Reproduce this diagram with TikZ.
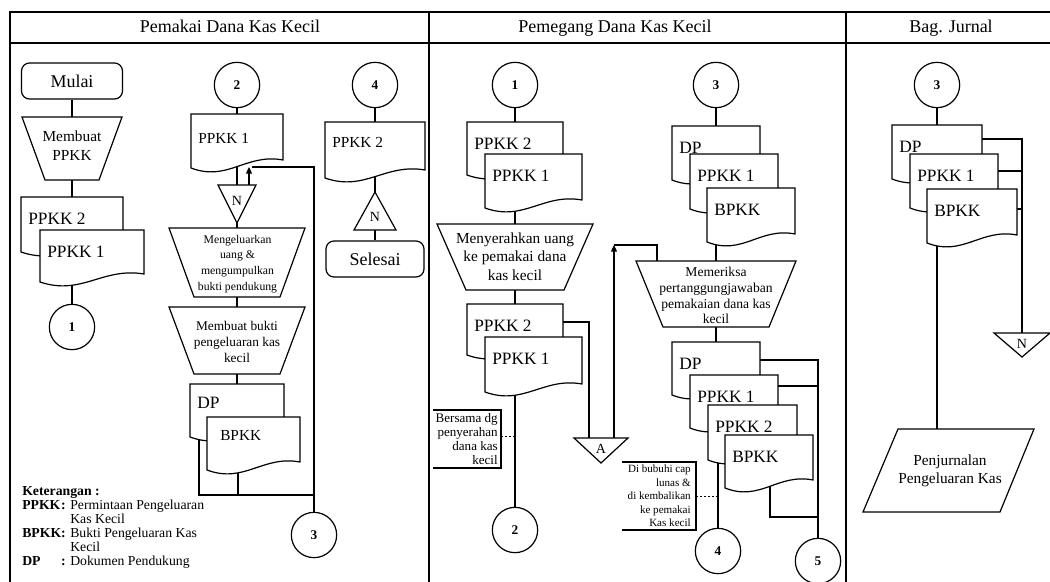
\documentclass[tikz,border=0pt]{standalone}
\usepackage{fontspec}
\setmainfont{Liberation Serif}
\usetikzlibrary{arrows.meta}
\pgfdeclarelayer{background}
\pgfsetlayers{background,main}

\tikzset{
  ln/.style={line width=0.9pt, line join=miter},
  shp/.style={ln, draw=black, fill=white},
  frame/.style={line width=1.1pt},
  conn/.style={shp, circle, minimum size=34pt, inner sep=0pt, font=\bfseries\fontsize{10}{11}\selectfont},
  term/.style={shp, rounded corners=6pt, inner sep=0pt, font=\fontsize{13.5}{16}\selectfont},
  doclab/.style={inner sep=0pt, anchor=base west, font=\fontsize{13}{15}\selectfont},
  doclabs/.style={inner sep=0pt, anchor=base west, font=\fontsize{11.5}{14}\selectfont},
  optext/.style={inner sep=0pt, align=center},
  tritext/.style={inner sep=0pt, font=\fontsize{10.5}{12}\selectfont},
  lanetitle/.style={inner sep=0pt, anchor=base, font=\fontsize{13.5}{16}\selectfont},
  note/.style={inner sep=0pt, align=right, anchor=east},
  flow/.style={ln},
  flowarr/.style={ln, -{Triangle[length=5pt,width=4.5pt]}},
  notedash/.style={line width=0.6pt, dash pattern=on 1.5pt off 1.5pt},
  bracket/.style={line width=0.8pt}
}

% document symbol: name, x1, ytop, x2, ybottom-left, label, label style
\newcommand{\docshape}[7]{%
  \pgfmathsetmacro{\dsw}{#4-#2}%
  \pgfmathsetmacro{\dsa}{#2+0.6*\dsw}%
  \pgfmathsetmacro{\dsb}{#2+0.4*\dsw}%
  \filldraw[shp] (#2,#3) -- (#4,#3) -- (#4,#5-8) .. controls (\dsa,#5-15) and (\dsb,#5+14) .. (#2,#5) -- cycle;
  \coordinate (#1) at ({(#2+#4)/2},{(#3+#5)/2});
  \coordinate (#1-t) at ({(#2+#4)/2},#3);
  \node[#7] (#1-lab) at (#2+7,#3+27) {#6};
}
% manual operation: name, top x1, top x2, top y, bottom x1, bottom x2, bottom y
\newcommand{\manop}[7]{%
  \filldraw[shp] (#2,#4) -- (#3,#4) -- (#6,#7) -- (#5,#7) -- cycle;
  \coordinate (#1-n) at ({(#2+#3)/2},#4);
  \coordinate (#1-s) at ({(#5+#6)/2},#7);
}
% offline storage (point down): name, x1, x2, top y, apex y
\newcommand{\tridown}[5]{%
  \filldraw[shp] (#2,#4) -- (#3,#4) -- ({(#2+#3)/2},#5) -- cycle;
  \coordinate (#1-n) at ({(#2+#3)/2},#4);
  \coordinate (#1-s) at ({(#2+#3)/2},#5);
}
% triangle point up: name, x1, x2, apex y, base y
\newcommand{\triup}[5]{%
  \filldraw[shp] ({(#2+#3)/2},#4) -- (#3,#5) -- (#2,#5) -- cycle;
  \coordinate (#1-n) at ({(#2+#3)/2},#4);
  \coordinate (#1-s) at ({(#2+#3)/2},#5);
}

\begin{document}
\begin{tikzpicture}[x=0.75pt,y=-0.75pt]
\useasboundingbox (0,0) rectangle (1050,582);

% ---------- frame ----------
\draw[frame] (10,582) -- (10,12) -- (1050,12);
\draw[frame] (10,43) -- (1050,43);
\draw[frame] (429,12) -- (429,582);
\draw[frame] (846,12) -- (846,582);
\node[lanetitle] (t1) at (230,32) {Pemakai Dana Kas Kecil};
\node[lanetitle] (t2) at (615,32) {Pemegang Dana Kas Kecil};
\node[lanetitle] (t3) at (951,32) {Bag. Jurnal};

% ---------- lane 1, left column ----------
\node[term, minimum width=75.75pt, minimum height=27pt] (mulai) at (72,81) {Mulai};
\manop{opA}{22}{122}{117}{45}{99}{180}
\node[optext, font=\fontsize{11.5}{14.25}\selectfont] (opA-txt) at (72,146) {Membuat\\PPKK};
\docshape{dA1}{21}{197}{123}{252}{PPKK 2}{doclab}
\docshape{dA2}{40}{230}{144}{282}{PPKK 1}{doclab}
\node[conn] (cA1) at (72,327) {1};

% ---------- lane 1, middle column ----------
\node[conn] (cA2) at (237,85) {2};
\docshape{dB1}{191}{114}{283}{168}{PPKK 1}{doclabs, yshift=-1.5pt}
\tridown{tB}{218}{256}{185}{223}
\node[tritext] (tB-txt) at (237,201) {N};
\manop{opB}{169}{305}{228}{194}{280}{297}
\node[optext, font=\fontsize{8.8}{11.8}\selectfont] (opB-txt) at (237.5,264) {Mengeluarkan\\uang \&\\mengumpulkan\\bukti pendukung};
\manop{opC}{169}{305}{307}{194}{280}{374}
\node[optext, font=\fontsize{10}{12}\selectfont] (opC-txt) at (237,342) {Membuat bukti\\pengeluaran kas\\kecil};
\docshape{dB2}{190}{384}{284}{437}{DP}{doclab, yshift=2.25pt}
\docshape{dB3}{207}{417}{300}{470}{BPKK}{doclabs, xshift=4.5pt, yshift=3pt}
\node[conn] (cA3) at (314,535) {3};

% ---------- lane 1, right column ----------
\node[conn] (cA4) at (375,85) {4};
\docshape{dC1}{325}{122}{425}{178}{PPKK 2}{doclabs, yshift=1.5pt}
\triup{tC}{354}{396}{192}{230}
\node[tritext] (tC-txt) at (375,217) {N};
\node[term, minimum width=73.5pt, minimum height=27pt] (selesai) at (375,259) {Selesai};

% ---------- legend ----------
\node[inner sep=0pt, anchor=north west, font=\fontsize{10.3}{10.5}\selectfont] (legend) at (22,485) {%
\begin{tabular}{@{}l@{}l@{}}
\multicolumn{2}{@{}l}{\textbf{Keterangan :}}\\
\textbf{PPKK}\ & \textbf{:} Permintaan Pengeluaran\\
 & \hphantom{\textbf{:} }Kas Kecil\\
\textbf{BPKK}\ & \textbf{:} Bukti Pengeluaran Kas\\
 & \hphantom{\textbf{:} }Kecil\\
\textbf{DP} & \textbf{:} Dokumen Pendukung
\end{tabular}};

% ---------- lane 2, left column ----------
\node[conn] (cB1) at (515,85) {1};
\docshape{dD1}{467}{122}{563}{175}{PPKK 2}{doclab}
\docshape{dD2}{485}{154}{582}{208}{PPKK 1}{doclab}
\manop{opD}{437}{593}{224}{466}{564}{290}
\node[optext, font=\fontsize{11.5}{13.9}\selectfont] (opD-txt) at (515,256.5) {Menyerahkan uang\\ke pemakai dana\\kas kecil};
\docshape{dD3}{467}{304}{563}{355}{PPKK 2}{doclab}
\docshape{dD4}{485}{337}{582}{392}{PPKK 1}{doclab}
\node[conn] (cB2) at (515,530) {2};
\tridown{tA}{574}{628}{438}{463}
\node[tritext] (tA-txt) at (601,449) {A};
\node[note, font=\fontsize{9.8}{10.7}\selectfont] (noteA) at (498,439) {Bersama dg\\penyerahan\\dana kas\\kecil};

% ---------- lane 2, right column ----------
\node[conn] (cB3) at (716,85) {3};
\docshape{dE1}{672}{126}{760}{180}{DP}{doclab}
\docshape{dE2}{690}{154}{778}{209}{PPKK 1}{doclab}
\docshape{dE3}{707}{188}{795}{242}{BPKK}{doclab}
\manop{opE}{636}{796}{261}{663}{769}{327}
\node[optext, font=\fontsize{10.2}{11.8}\selectfont] (opE-txt) at (716,295.5) {Memeriksa\\pertanggungjawaban\\pemakaian dana kas\\kecil};
\docshape{dF1}{672}{342}{760}{395}{DP}{doclab}
\docshape{dF2}{690}{375}{778}{428}{PPKK 1}{doclab}
\docshape{dF3}{708}{405}{797}{460}{PPKK 2}{doclab}
\docshape{dF4}{725}{435}{813}{488}{BPKK}{doclab}
\node[conn] (cB4) at (718,551) {4};
\node[conn] (cB5) at (818,561) {5};
\node[note, font=\fontsize{8.3}{10.1}\selectfont] (noteB) at (691,496) {Di bubuhi cap\\lunas \&\\di kembalikan\\ke pemakai\\Kas kecil};

% ---------- lane 3 ----------
\node[conn] (cC3) at (937,85) {3};
\docshape{dG1}{892}{125}{982}{179}{DP}{doclab}
\docshape{dG2}{910}{154}{998}{208}{PPKK 1}{doclab}
\docshape{dG3}{927}{189}{1017}{243}{BPKK}{doclab}
\tridown{tN}{994}{1050}{333}{357}
\node[tritext] (tN-txt) at (1022,344) {N};
\filldraw[shp] (898,429) -- (1034,429) -- (1000,512) -- (863,512) -- cycle;
\coordinate (pj-n) at (937,429);
\node[optext, font=\fontsize{11.5}{13.5}\selectfont] (pj-txt) at (950,471) {Penjurnalan\\Pengeluaran Kas};

% ---------- connectors ----------
\begin{pgfonlayer}{background}
% lane 1 left
\draw[flow] (mulai.south) -- (opA-n);
\draw[flow] (opA-s) -- (dA1-t);
\coordinate (dA2-o) at (72,265);
\draw[flow] (dA2-o) -- (cA1);
% lane 1 middle
\draw[flow] (cA2) -- (dB1-t);
\draw[flow] (dB1) -- (tB-n);
\draw[flow] (tB-s) -- (opB-n);
\coordinate (arB1) at (249,185);
\coordinate (arB2) at (249,167);
\draw[flowarr] (arB1) -- (arB2);
\coordinate (ret1) at (252,167);
\coordinate (ret2) at (314,167);
\draw[flow] (ret1) -- (ret2) -- (cA3);
\draw[flow] (opB-s) -- (opC-n);
\draw[flow] (opC-s) -- (dB2-t);
\coordinate (dB2-o) at (199,430);
\coordinate (dB3-o) at (238,455);
\coordinate (jn0) at (199,495);
\coordinate (jn1) at (238,495);
\coordinate (jn2) at (314,495);
\draw[flow] (dB2-o) -- (jn0) -- (jn2);
\draw[flow] (dB3-o) -- (jn1);
% lane 1 right
\draw[flow] (cA4) -- (dC1-t);
\draw[flow] (dC1) -- (tC-n);
\draw[flow] (tC-s) -- (selesai.north);
% lane 2 left
\draw[flow] (cB1) -- (dD1-t);
\coordinate (dD2-o) at (515,195);
\draw[flow] (dD2-o) -- (opD-n);
\draw[flow] (opD-s) -- (dD3-t);
\coordinate (dD4-o) at (515,375);
\draw[flow] (dD4-o) -- (cB2);
\coordinate (dD3-r) at (563,322);
\coordinate (k1) at (589,322);
\coordinate (tA-in) at (589,438);
\draw[flow] (dD3-r) -- (k1) -- (tA-in);
\coordinate (tA-out) at (614,438);
\coordinate (k2) at (614,245);
\coordinate (k3) at (657,245);
\coordinate (opE-in) at (657,261);
\draw[flowarr] (tA-out) -- (k2);
\draw[flow] (k2) -- (k3) -- (opE-in);
% lane 2 right
\draw[flow] (cB3) -- (dE1-t);
\coordinate (dE3-o) at (716,225);
\draw[flow] (dE3-o) -- (opE-n);
\draw[flow] (opE-s) -- (dF1-t);
\coordinate (dF1-r) at (760,360);
\coordinate (k4) at (818,360);
\draw[flow] (dF1-r) -- (k4) -- (cB5);
\coordinate (dF2-r) at (778,386);
\coordinate (k5) at (818,386);
\draw[flow] (dF2-r) -- (k5);
\coordinate (dF4-o) at (770,470);
\coordinate (k6) at (770,517);
\coordinate (k7) at (818,517);
\draw[flow] (dF4-o) -- (k6) -- (k7);
\coordinate (dF3-o) at (718,450);
\draw[flow] (dF3-o) -- (cB4);
% lane 3
\draw[flow] (cC3) -- (dG1-t);
\coordinate (dG1-r) at (982,139);
\coordinate (k8) at (1022,139);
\draw[flow] (dG1-r) -- (k8) -- (tN-n);
\coordinate (dG2-r) at (998,171);
\coordinate (k9) at (1022,171);
\draw[flow] (dG2-r) -- (k9);
\coordinate (dG3-r) at (1017,209);
\coordinate (k10) at (1022,209);
\draw[flow] (dG3-r) -- (k10);
\coordinate (dG3-o) at (937,230);
\draw[flow] (dG3-o) -- (pj-n);
\end{pgfonlayer}

% ---------- annotation brackets ----------
\coordinate (bA1) at (433,410);
\coordinate (bA2) at (501,410);
\coordinate (bA3) at (501,468);
\coordinate (bA4) at (433,468);
\draw[bracket] (bA1) -- (bA2) -- (bA3) -- (bA4);
\coordinate (bA5) at (501,436);
\coordinate (bA6) at (515,436);
\draw[notedash] (bA5) -- (bA6);
\coordinate (bB1) at (622,462);
\coordinate (bB2) at (696,462);
\coordinate (bB3) at (696,530);
\coordinate (bB4) at (622,530);
\draw[bracket] (bB1) -- (bB2) -- (bB3) -- (bB4);
\coordinate (bB5) at (696,496);
\coordinate (bB6) at (718,496);
\draw[notedash] (bB5) -- (bB6);
\end{tikzpicture}
\end{document}
